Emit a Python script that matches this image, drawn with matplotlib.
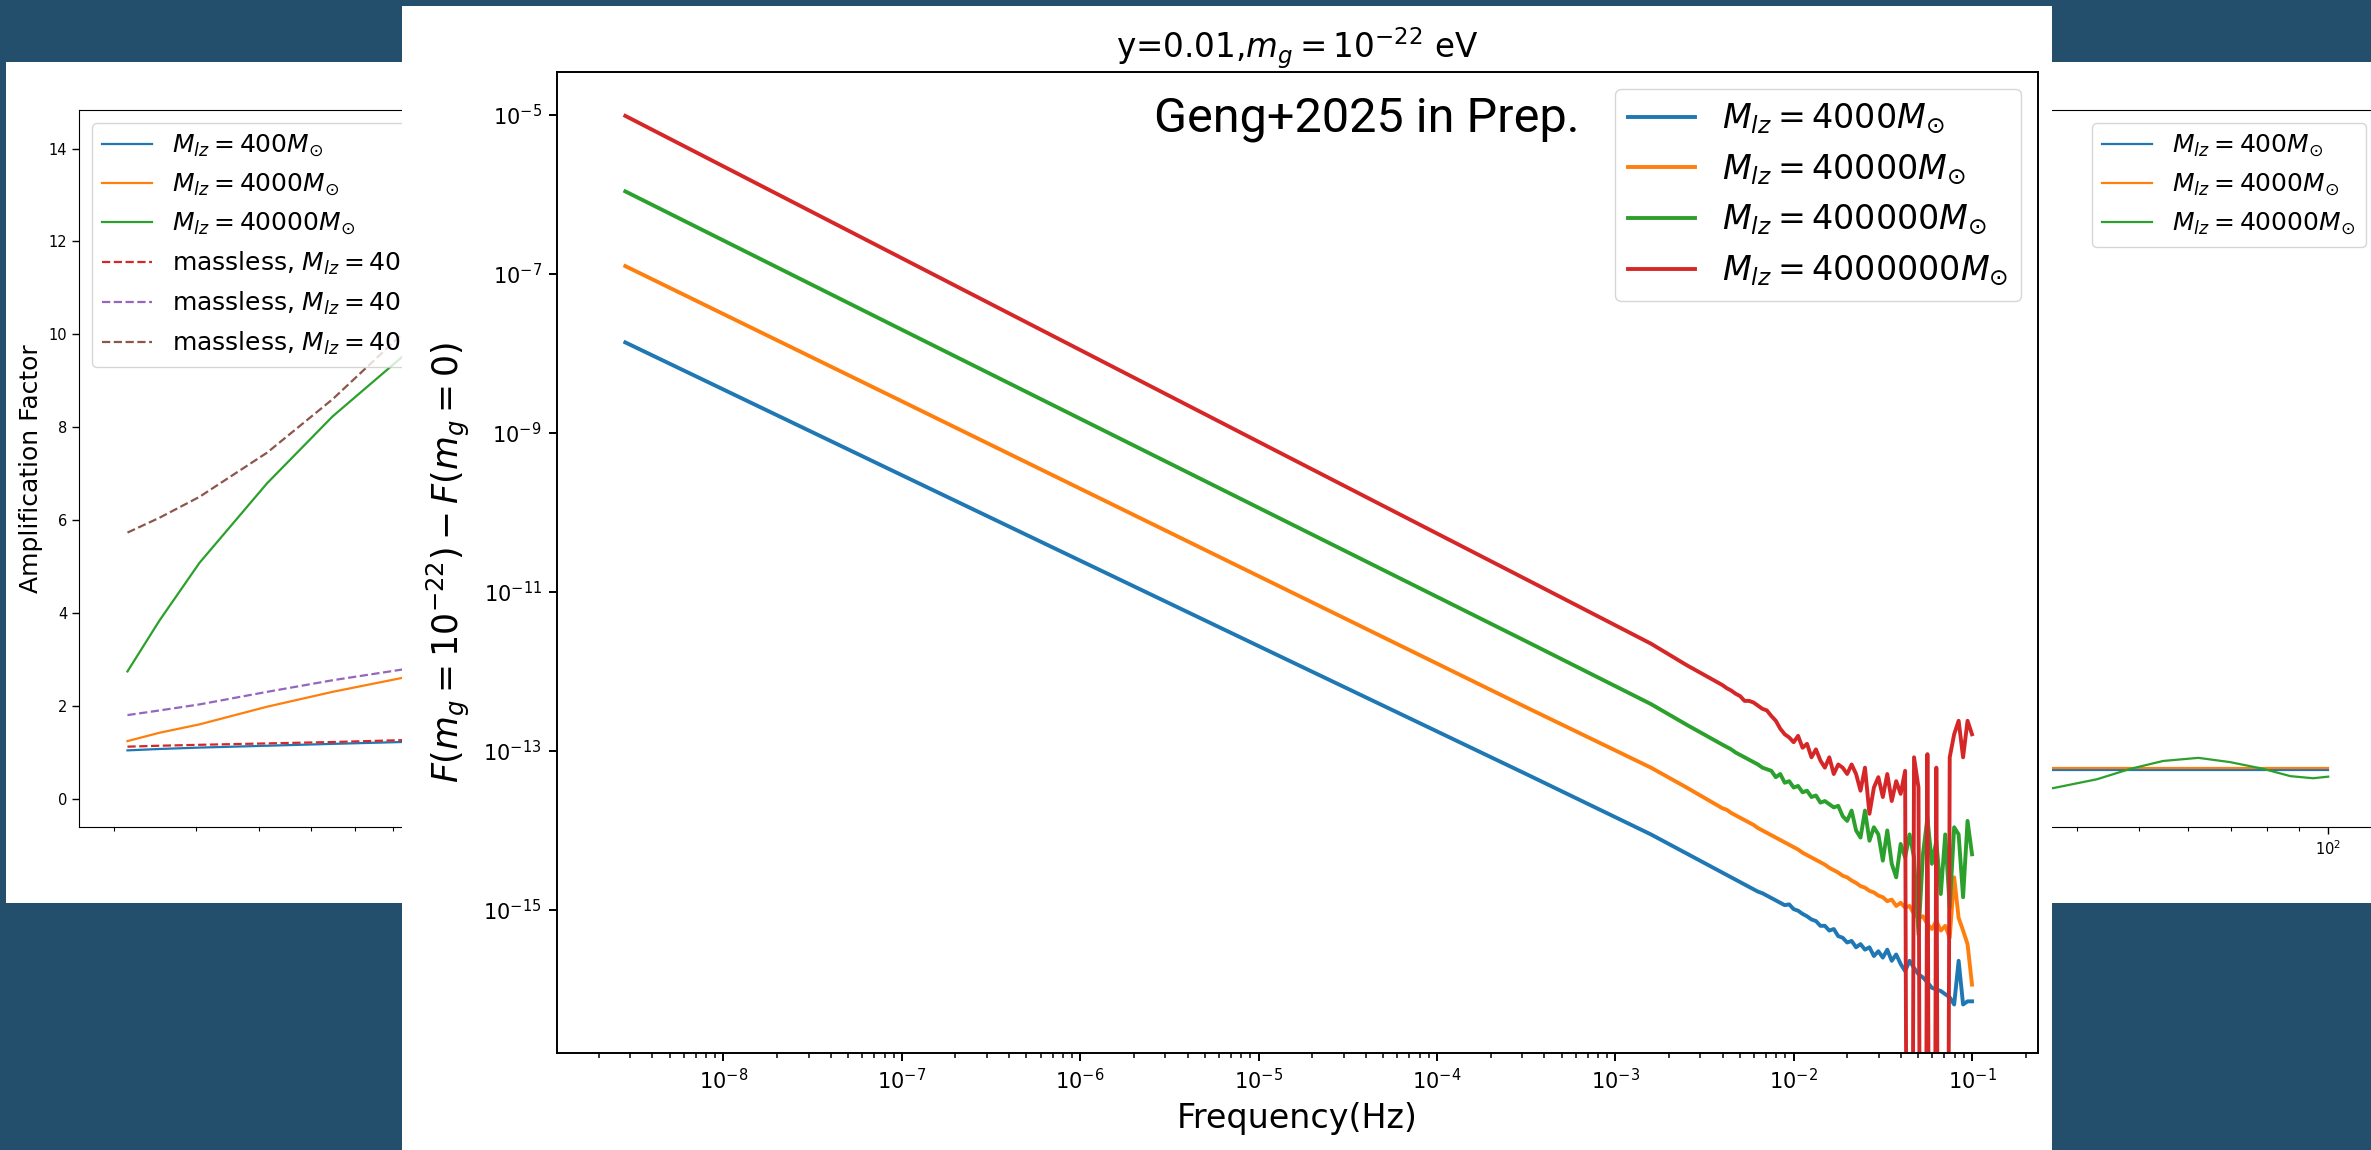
import matplotlib
matplotlib.use("Agg")
import matplotlib.pyplot as plt
import numpy as np
from matplotlib.patches import Rectangle
from matplotlib.ticker import FixedLocator, NullLocator, LogFormatterSciNotation, LogLocator

W, H = 2371, 1150
SLIDE_BG = "#244f6c"

# ---------------- main plot data (log10 values) ----------------
log_freq = [
    -8.55, -7.0, -5.0, -3.5, -2.8, -2.6, -2.4,
    -2.375, -2.35, -2.325, -2.3, -2.275, -2.25, -2.225, -2.2, -2.175, -2.15, -2.125, -2.1, -2.075, -2.05, -2.025, -2.0,
    -1.975, -1.95, -1.925, -1.9, -1.875, -1.85, -1.825, -1.8, -1.775, -1.75, -1.725, -1.7, -1.675, -1.65, -1.625, -1.6,
    -1.575, -1.55, -1.525, -1.5, -1.475, -1.45, -1.425, -1.4, -1.375, -1.35, -1.325, -1.3, -1.275, -1.25, -1.225, -1.2,
    -1.175, -1.15, -1.125, -1.1, -1.075, -1.05, -1.025, -1.0,
]
log_dF_4e3 = [
    -7.86, -9.53, -11.68, -13.29, -14.05, -14.29, -14.53,
    -14.56, -14.59, -14.62, -14.65, -14.68, -14.71, -14.74, -14.77, -14.79, -14.82, -14.85, -14.88, -14.91, -14.94, -14.93, -14.99,
    -15.01, -15.05, -15.08, -15.12, -15.14, -15.20, -15.20, -15.26, -15.24, -15.33, -15.35, -15.41, -15.39, -15.47, -15.43, -15.50,
    -15.47, -15.58, -15.52, -15.60, -15.50, -15.64, -15.56, -15.68, -15.77, -15.64, -15.73, -15.81, -15.85, -15.91, -15.98, -16.00,
    -16.02, -16.06, -16.10, -16.19, -15.64, -16.19, -16.15, -16.15,
]
log_dF_4e4 = [
    -6.90, -8.60, -10.80, -12.45, -13.21, -13.46, -13.72,
    -13.74, -13.78, -13.81, -13.84, -13.87, -13.90, -13.93, -13.97, -14.00, -14.03, -14.06, -14.09, -14.12, -14.15, -14.18, -14.21,
    -14.24, -14.28, -14.31, -14.34, -14.37, -14.40, -14.43, -14.47, -14.50, -14.53, -14.57, -14.59, -14.63, -14.66, -14.70, -14.72,
    -14.76, -14.78, -14.82, -14.84, -14.89, -14.87, -14.95, -14.91, -14.97, -14.95, -15.05, -15.10, -15.08, -15.18, -15.24, -15.14,
    -15.26, -15.20, -15.35, -14.59, -15.10, -15.26, -15.43, -15.94,
]
log_dF_4e5 = [
    -5.96, -7.70, -9.94, -11.62, -12.41, -12.67, -12.92,
    -12.95, -12.98, -13.02, -13.05, -13.08, -13.11, -13.14, -13.17, -13.21, -13.23, -13.25, -13.33, -13.29, -13.40, -13.38, -13.46,
    -13.44, -13.52, -13.50, -13.58, -13.56, -13.65, -13.63, -13.67, -13.71, -13.69, -13.82, -13.88, -13.75, -14.00, -14.09, -13.75,
    -14.13, -13.96, -14.05, -14.38, -14.00, -14.42, -14.59, -14.17, -14.34, -14.05, -14.34, -15.31, -14.30, -13.84, -14.42, -14.13,
    -14.80, -14.05, -14.97, -13.96, -14.05, -14.84, -13.88, -14.30,
]
# -30 marks points that fall far below the axis (the vertical red spikes)
log_dF_4e6 = [
    -5.01, -6.80, -9.11, -10.84, -11.65, -11.92, -12.17,
    -12.21, -12.24, -12.28, -12.31, -12.37, -12.37, -12.39, -12.43, -12.47, -12.49, -12.56, -12.62, -12.72, -12.79, -12.83, -12.89,
    -12.81, -12.96, -12.91, -13.08, -12.98, -13.12, -13.21, -13.08, -13.29, -13.17, -13.21, -13.29, -13.17, -13.29, -13.50, -13.21,
    -13.79, -13.46, -13.33, -13.58, -13.29, -13.63, -13.38, -13.54, -13.25, -30.0, -13.08, -13.46, -30.0, -13.04, -30.0, -13.21,
    -30.0, -30.0, -13.08, -12.79, -12.62, -13.08, -12.62, -12.79,
]
main_series = [log_dF_4e3, log_dF_4e4, log_dF_4e5, log_dF_4e6]
main_labels = [r"$M_{lz}=4000M_{\odot}$", r"$M_{lz}=40000M_{\odot}$",
               r"$M_{lz}=400000M_{\odot}$", r"$M_{lz}=4000000M_{\odot}$"]
main_colors = ["#1f77b4", "#ff7f0e", "#2ca02c", "#d62728"]

# ---------------- background slide plot (partly hidden) ----------------
log_f_left = [-1.502, -1.453, -1.392, -1.289, -1.189, -1.083, -1.05]
amp_400 = [1.04, 1.07, 1.10, 1.14, 1.18, 1.22, 1.23]
amp_4000 = [1.24, 1.42, 1.60, 1.98, 2.30, 2.60, 2.70]
amp_40000 = [2.74, 3.84, 5.08, 6.79, 8.23, 9.51, 9.90]
amp0_400 = [1.12, 1.14, 1.16, 1.19, 1.22, 1.26, 1.27]
amp0_4000 = [1.80, 1.90, 2.03, 2.30, 2.55, 2.78, 2.86]
amp0_40000 = [5.73, 6.05, 6.50, 7.45, 8.60, 10.00, 10.40]

log_f_right_flat = [1.3, 2.0]
amp_r_400 = [0.62, 0.62]
amp_r_4000 = [0.655, 0.655]
log_f_right_green = [1.5, 1.563, 1.633, 1.686, 1.738, 1.794, 1.844, 1.897, 1.940, 1.976, 2.0]
amp_r_40000 = [0.15, 0.226, 0.418, 0.642, 0.812, 0.879, 0.788, 0.642, 0.485, 0.440, 0.474]


def frac(x0, y0, x1, y1):
    """pixel box (top-left origin) -> figure fraction rect"""
    return [x0 / W, 1 - y1 / H, (x1 - x0) / W, (y1 - y0) / H]


fig = plt.figure(figsize=(W / 100, H / 100), dpi=100, facecolor=SLIDE_BG)

# white card of the background figure
fig.add_artist(Rectangle((6 / W, 1 - 903 / H), 1.0, 841 / H, transform=fig.transFigure,
                         facecolor="white", edgecolor="none", zorder=-10))

ax_l = fig.add_axes(frac(79, 110, 1150, 827), zorder=-9)
ax_l.plot(10 ** np.array(log_f_left), amp_400, color="#1f77b4", lw=1.6, label=r"$M_{lz}=400M_{\odot}$")
ax_l.plot(10 ** np.array(log_f_left), amp_4000, color="#ff7f0e", lw=1.6, label=r"$M_{lz}=4000M_{\odot}$")
ax_l.plot(10 ** np.array(log_f_left), amp_40000, color="#2ca02c", lw=1.6, label=r"$M_{lz}=40000M_{\odot}$")
ax_l.plot(10 ** np.array(log_f_left), amp0_400, color="#d62728", lw=1.6, ls="--", label=r"massless, $M_{lz}=400M_{\odot}$")
ax_l.plot(10 ** np.array(log_f_left), amp0_4000, color="#9467bd", lw=1.6, ls="--", label=r"massless, $M_{lz}=4000M_{\odot}$")
ax_l.plot(10 ** np.array(log_f_left), amp0_40000, color="#8c564b", lw=1.6, ls="--", label=r"massless, $M_{lz}=40000M_{\odot}$")
ax_l.set_xscale("log")
ax_l.set_xlim(10 ** -1.576, 10 ** 0.059)
ax_l.set_ylim(-0.61, 14.83)
ax_l.set_yticks(range(0, 15, 2))
ax_l.tick_params(labelsize=10.5, length=5, width=1.0)
ax_l.tick_params(which="minor", length=3, width=0.8)
ax_l.set_ylabel("Amplification Factor", fontsize=18)
ax_l.legend(loc="upper left", fontsize=18)

ax_r = fig.add_axes(frac(1250, 110, 2378, 827), zorder=-9)
ax_r.plot(10 ** np.array(log_f_right_flat), amp_r_400, color="#1f77b4", lw=1.6, label=r"$M_{lz}=400M_{\odot}$")
ax_r.plot(10 ** np.array(log_f_right_flat), amp_r_4000, color="#ff7f0e", lw=1.6, label=r"$M_{lz}=4000M_{\odot}$")
ax_r.plot(10 ** np.array(log_f_right_green), amp_r_40000, color="#2ca02c", lw=1.6, label=r"$M_{lz}=40000M_{\odot}$")
ax_r.set_xscale("log")
ax_r.set_xlim(10 ** 0.289, 10 ** 2.079)
ax_r.set_ylim(-0.61, 14.83)
ax_r.tick_params(labelsize=10.5, length=5, width=1.0)
ax_r.tick_params(which="minor", length=3, width=0.8)
ax_r.legend(loc="upper right", fontsize=18)

# white card of the front figure
fig.add_artist(Rectangle((402 / W, 0), 1650 / W, 1 - 6 / H, transform=fig.transFigure,
                         facecolor="white", edgecolor="none", zorder=-5))

# ---------------- main plot ----------------
ax = fig.add_axes(frac(557, 72, 2038, 1053), zorder=0)
f = 10 ** np.array(log_freq)
for vals, lab, col in zip(main_series, main_labels, main_colors):
    ax.plot(f, 10 ** np.array(vals), color=col, lw=2.8, label=lab)
ax.set_xscale("log")
ax.set_yscale("log")
ax.set_xlim(10 ** -8.933, 10 ** -0.63)
ax.set_ylim(10 ** -16.80, 10 ** -4.458)
ax.yaxis.set_major_locator(FixedLocator([1e-15, 1e-13, 1e-11, 1e-9, 1e-7, 1e-5]))
ax.yaxis.set_major_formatter(LogFormatterSciNotation())
ax.yaxis.set_minor_locator(NullLocator())
ax.xaxis.set_major_locator(LogLocator(base=10, numticks=20))
ax.xaxis.set_minor_locator(LogLocator(base=10, subs=np.arange(2, 10), numticks=20))
for s in ax.spines.values():
    s.set_linewidth(1.4)
ax.tick_params(which="major", labelsize=15, length=6, width=1.4, pad=5)
ax.tick_params(which="minor", length=3.5, width=1.1)
ax.set_title(r"y=0.01,$m_g=10^{-22}$ eV", fontsize=23.5, pad=10)
ax.set_xlabel("Frequency(Hz)", fontsize=24, labelpad=6)
ax.set_ylabel(r"$F(m_g=10^{-22})-F(m_g=0)$", fontsize=25, labelpad=8)
ax.legend(loc="upper right", fontsize=24, handlelength=2.0)

fig.text(1580 / W, 1 - 132 / H, "Geng+2025 in Prep.", ha="right", va="baseline",
         fontsize=35, family=["Roboto", "DejaVu Sans"], color="black", zorder=5)

fig.savefig("out.png", dpi=100, facecolor=fig.get_facecolor())
